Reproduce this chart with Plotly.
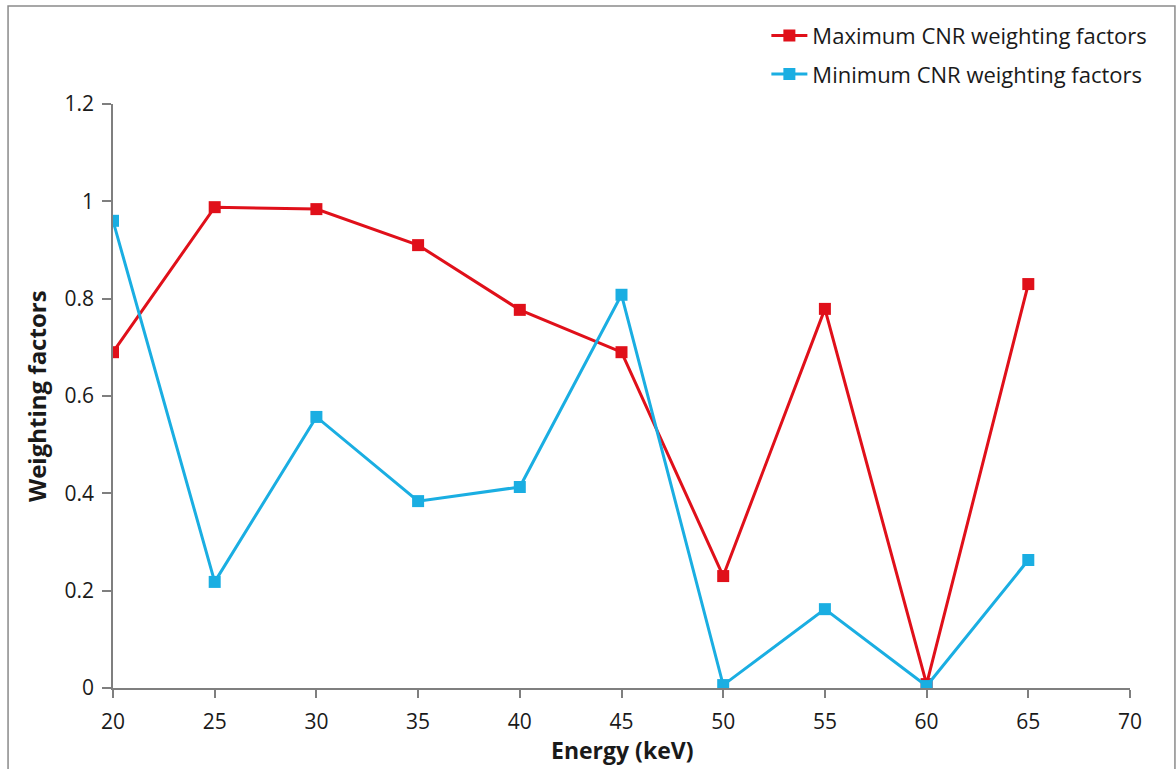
import plotly.graph_objects as go

# Photon energy bins (keV)
energy = [20, 25, 30, 35, 40, 45, 50, 55, 60, 65]

# Weighting factors per energy bin
max_cnr = [0.690, 0.988, 0.984, 0.910, 0.777, 0.690, 0.230, 0.779, 0.008, 0.830]
min_cnr = [0.960, 0.218, 0.557, 0.384, 0.413, 0.808, 0.006, 0.162, 0.004, 0.263]

series_names = ["Maximum CNR weighting factors", "Minimum CNR weighting factors"]
x_ticks = [20, 25, 30, 35, 40, 45, 50, 55, 60, 65, 70]
y_ticks = [0, 0.2, 0.4, 0.6, 0.8, 1.0, 1.2]
y_tick_text = ["0", "0.2", "0.4", "0.6", "0.8", "1", "1.2"]
x_title = "Energy (keV)"
y_title = "Weighting factors"

RED = "#E0101A"
BLUE = "#1AAEE2"
FONT = "Open Sans, Lato, sans-serif"

fig = go.Figure()
fig.add_trace(go.Scatter(
    x=energy, y=max_cnr, mode="lines+markers", name=series_names[0],
    legendgroup="max",
    line=dict(color=RED, width=3),
    marker=dict(symbol="square", size=12, color=RED),
))
fig.add_trace(go.Scatter(
    x=energy, y=min_cnr, mode="lines+markers", name=series_names[1],
    legendgroup="min",
    line=dict(color=BLUE, width=3),
    marker=dict(symbol="square", size=12, color=BLUE),
))

# outer frame around the whole chart
fig.add_shape(type="rect", xref="paper", yref="paper",
              x0=-0.1032, x1=1.0442, y0=-0.2, y1=1.1678,
              line=dict(color="#8a8a8a", width=1.5), layer="below")

# axis titles
fig.add_annotation(text=f"<b>{x_title}</b>", xref="paper", yref="paper",
                   x=0.5, y=-0.107, xanchor="center", yanchor="middle",
                   showarrow=False, font=dict(size=23, family=FONT, color="#1a1a1a"))
fig.add_annotation(text=f"<b>{y_title}</b>", xref="paper", yref="paper",
                   x=-0.0757, y=0.5, xanchor="center", yanchor="middle", textangle=-90,
                   showarrow=False, font=dict(size=24, family=FONT, color="#1a1a1a"))

fig.update_layout(
    width=1176, height=769,
    margin=dict(l=113, r=46, t=104, b=81),
    paper_bgcolor="white", plot_bgcolor="white",
    font=dict(family=FONT, color="#1a1a1a", size=21),
    showlegend=True,
    legend=dict(
        x=1.022, xanchor="right", y=1.153, yanchor="top",
        font=dict(size=22, family=FONT, color="#1a1a1a"),
        bgcolor="rgba(0,0,0,0)", itemwidth=36, tracegroupgap=7,
    ),
    xaxis=dict(
        range=[20, 70], tickmode="array", tickvals=x_ticks,
        showgrid=False, zeroline=False, automargin=False,
        showline=True, linecolor="#7f7f7f", linewidth=1.5,
        ticks="outside", ticklen=8, tickcolor="#7f7f7f", tickwidth=1.5,
        tickfont=dict(size=21, family=FONT), ticklabelstandoff=6,
    ),
    yaxis=dict(
        range=[0, 1.2], tickmode="array", tickvals=y_ticks, ticktext=y_tick_text,
        showgrid=False, zeroline=False, automargin=False,
        showline=True, linecolor="#7f7f7f", linewidth=1.5,
        ticks="outside", ticklen=9, tickcolor="#7f7f7f", tickwidth=1.5,
        tickfont=dict(size=21, family=FONT), ticklabelstandoff=4,
    ),
)

fig.write_html("out.html")
